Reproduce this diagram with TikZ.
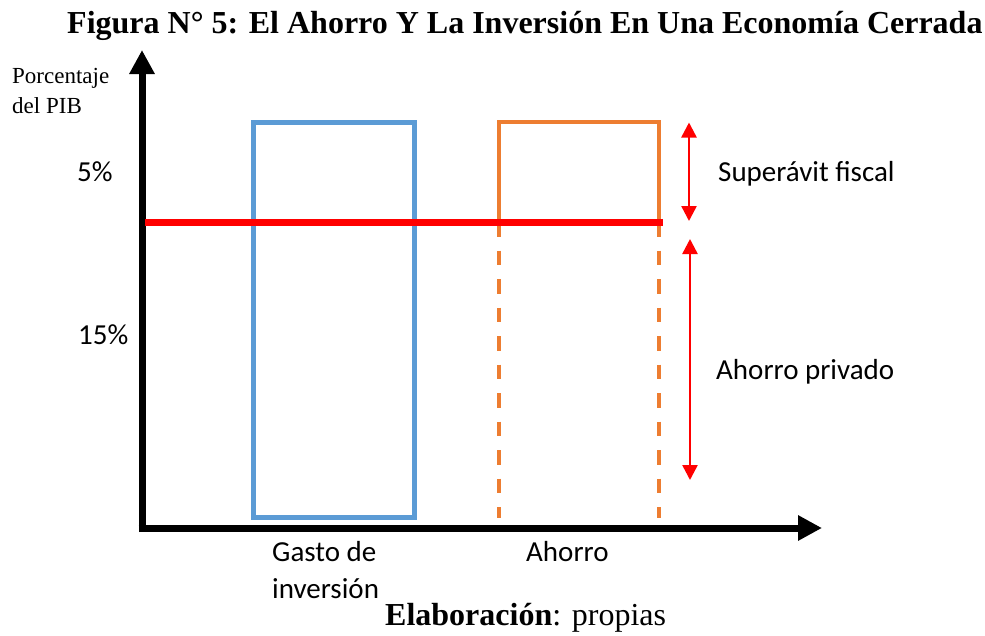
\documentclass[tikz,border=0pt]{standalone}
\usepackage{fontspec}
\setmainfont{Liberation Serif}
\newfontfamily\calibri{Carlito}
\usetikzlibrary{arrows.meta}
\definecolor{azul}{HTML}{5B9BD5}
\definecolor{naranja}{HTML}{ED7D31}

\begin{document}
\begin{tikzpicture}[x=1pt,y=-1pt,
  eje/.style={line width=7pt,-{Triangle[width=24pt,length=24pt]}},
  flecha/.style={red,line width=2.5pt,{Triangle[width=15pt,length=15pt]}-{Triangle[width=15pt,length=15pt]}},
  barra/.style={line width=4pt},
  texto/.style={font=\calibri\fontsize{29}{37}\selectfont,inner sep=0pt,anchor=base west,align=left},
  serif/.style={font=\fontsize{23}{30}\selectfont,inner sep=0pt,anchor=base west,align=left},
  grande/.style={font=\fontsize{32}{38}\selectfont,inner sep=0pt,anchor=base west}]
\useasboundingbox (0,0) rectangle (985,635);
% ejes
\coordinate (origen) at (142,528);
\coordinate (ybajo) at (142,532);
\coordinate (yfin) at (142,50);
\coordinate (xini) at (138.5,528);
\coordinate (xfin) at (822,528);
\draw[eje] (ybajo) -- (yfin);
\draw[eje] (xini) -- (xfin);
% barras
\draw[azul,line width=5pt] (253.5,122) rectangle (414.5,517.5);
\coordinate (ahI) at (498.5,222);
\coordinate (ahD) at (659,222);
\draw[naranja,barra] (ahI) |- (659,122) -- (ahD);
\draw[naranja,barra,dash pattern=on 14.5pt off 14pt] (ahI) -- (498.5,518);
\draw[naranja,barra,dash pattern=on 14.5pt off 14pt] (ahD) -- (659,518);
\coordinate (lineaI) at (145,222.5);
\coordinate (lineaD) at (663,222.5);
\draw[red,line width=6.5pt] (lineaI) -- (lineaD);
% flechas
\coordinate (supA) at (689,122.5);
\coordinate (supB) at (689,221);
\coordinate (privA) at (690,239);
\coordinate (privB) at (690,480);
\path (supA) edge[flecha] (supB)
      (privA) edge[flecha] (privB);
% textos (base = ultima linea)
\node[grande,font=\bfseries\fontsize{32}{38}\selectfont] (titulo) at (67,33.3) {Figura N° 5: El Ahorro Y La Inversión En Una Economía Cerrada};
\node[serif] (ejey) at (12,113) {Porcentaje\\del PIB};
\node[texto] (cinco) at (77,181) {5\%};
\node[texto] (quince) at (78,344) {15\%};
\node[texto] (superavit) at (718,181.5) {Superávit fiscal};
\node[texto] (privado) at (716,379) {Ahorro privado};
\node[texto] (gasto) at (272,598) {Gasto de\\inversión};
\node[texto] (ahorro) at (526,561) {Ahorro};
\node[grande] (fuente) at (385,625) {\textbf{Elaboración}: propias};
\end{tikzpicture}
\end{document}
